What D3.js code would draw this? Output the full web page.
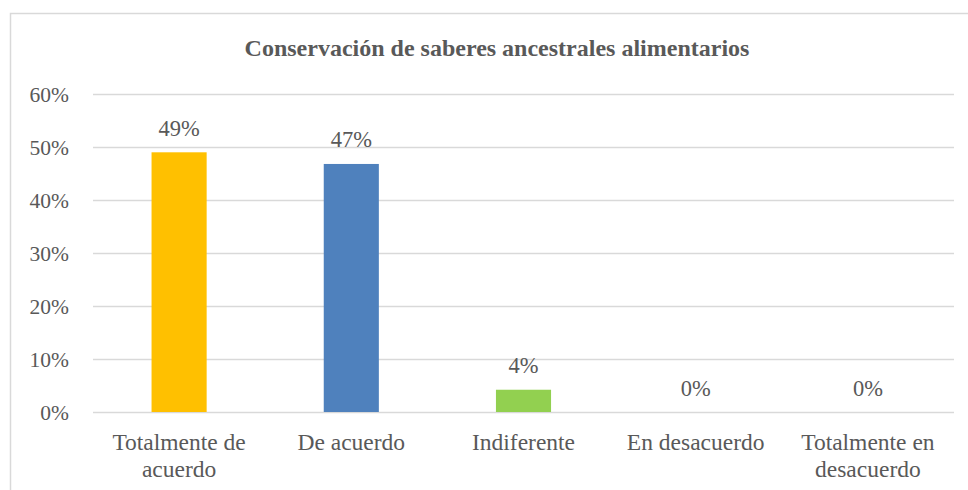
<!DOCTYPE html>
<html><head><meta charset="utf-8">
<script src="https://cdn.jsdelivr.net/npm/d3@7"></script>
<style>body{margin:0;background:#fff}svg{display:block}text{font-family:"Liberation Serif","Times New Roman",serif;fill:#595959}</style>
</head><body><svg id="c" width="968" height="490"></svg>
<script>
const title = "Conservación de saberes ancestrales alimentarios";
const categories = [["Totalmente de","acuerdo"],["De acuerdo"],["Indiferente"],["En desacuerdo"],["Totalmente en","desacuerdo"]];
const values = [0.49, 0.468, 0.042, 0, 0];
const labels = ["49%","47%","4%","0%","0%"];
const colors = ["#FFC000","#4F81BD","#92D050","#A5A5A5","#A5A5A5"];
const yTicks = [0,0.1,0.2,0.3,0.4,0.5,0.6];

const svg = d3.select("#c");

svg.append("rect").attr("x",10.5).attr("y",13.5).attr("width",1000).attr("height",500)
  .attr("fill","none").attr("stroke","#d9d9d9").attr("stroke-width",1.5);

svg.append("text").attr("x",497).attr("y",56).attr("text-anchor","middle")
  .style("font-size","24px").style("font-weight","bold").text(title);

const x = d3.scaleBand().domain(d3.range(categories.length)).range([93,954]).paddingInner(0.68).paddingOuter(0.34);
const y = d3.scaleLinear().domain([0,0.6]).range([412,94]);

const g = svg.append("g");
g.selectAll("line.grid").data(yTicks).join("line").attr("class","grid")
  .attr("x1",93).attr("x2",954).attr("y1",d=>Math.round(y(d))+0.5).attr("y2",d=>Math.round(y(d))+0.5)
  .attr("stroke","#d9d9d9").attr("stroke-width",1.5);

g.selectAll("text.yt").data(yTicks).join("text").attr("class","yt")
  .attr("x",69).attr("y",d=>y(d)+8).attr("text-anchor","end")
  .style("font-size","21.5px").text(d3.format(".0%"));

g.selectAll("rect.bar").data(values).join("rect").attr("class","bar")
  .attr("x",(d,i)=>x(i)).attr("width",x.bandwidth())
  .attr("y",d=>y(d)).attr("height",d=>y(0)-y(d)).attr("fill",(d,i)=>colors[i]);

g.selectAll("text.dl").data(values).join("text").attr("class","dl")
  .attr("x",(d,i)=>x(i)+x.bandwidth()/2).attr("y",d=>y(d)-16.5).attr("text-anchor","middle")
  .style("font-size","22.5px").text((d,i)=>labels[i]);

const cl = g.selectAll("text.cat").data(categories).join("text").attr("class","cat")
  .attr("x",(d,i)=>x(i)+x.bandwidth()/2).attr("y",450).attr("text-anchor","middle")
  .style("font-size","23.5px");
cl.selectAll("tspan").data(d=>d).join("tspan")
  .attr("x",function(){return this.parentNode.getAttribute("x");})
  .attr("dy",(d,i)=>i?27:0).text(d=>d);
</script></body></html>
